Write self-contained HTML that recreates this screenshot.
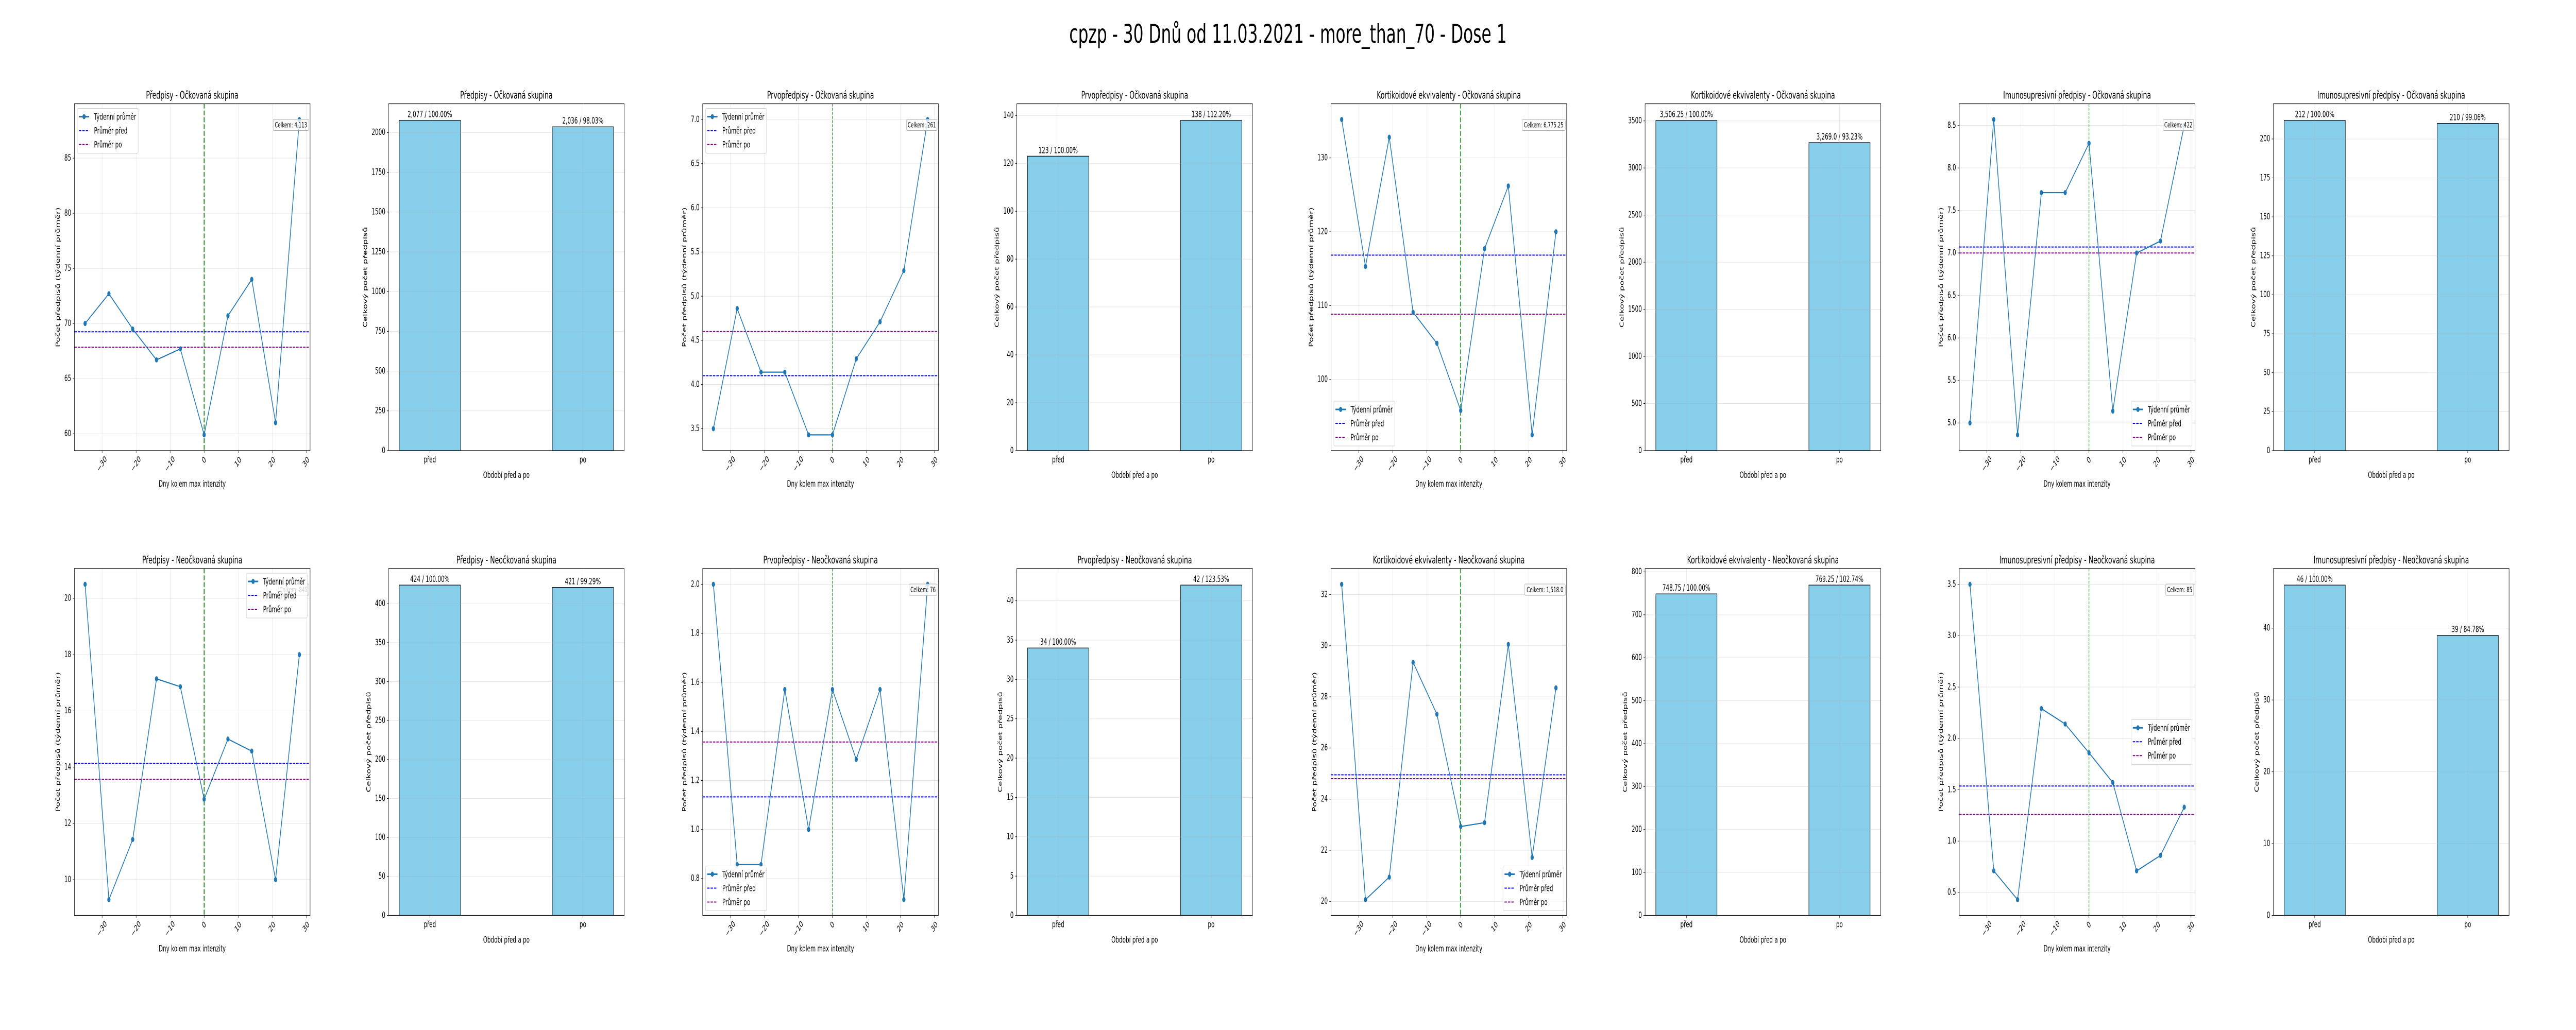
<!DOCTYPE html>
<html><head><meta charset="utf-8">
<style>
html,body{margin:0;padding:0;background:#fff;width:100%;height:100%;overflow:hidden;}
svg{display:block;width:100vw;height:100vh;font-family:"DejaVu Sans","Liberation Sans",sans-serif;}
</style></head>
<body>
<svg id="chart" xmlns="http://www.w3.org/2000/svg" viewBox="0 0 8000 2000" preserveAspectRatio="none">
<rect x="0" y="0" width="8000" height="2000" fill="#ffffff"/>
<text x="4000" y="83" text-anchor="middle" font-size="50" fill="#000">cpzp - 30 Dnů od 11.03.2021 - more_than_70 - Dose 1</text>
</svg>
<script>
// ---- shared data ----
const days = [-35, -28, -21, -14, -7, 0, 7, 14, 21, 28];
const dayTicks = [-30, -20, -10, 0, 10, 20, 30];
const barCategories = ['před', 'po'];

// Předpisy - Očkovaná
const vacRxWeekly = [70.0, 72.7, 69.5, 66.7, 67.7, 59.9, 70.7, 74.0, 61.0, 88.5];
const vacRxMeans = [69.25, 67.85];
const vacRxTicks = [60, 65, 70, 75, 80, 85];
const vacRxTotals = [2077, 2036];
const vacRxTotalLabels = ['2,077 / 100.00%', '2,036 / 98.03%'];
const vacRxBarTicks = [0, 250, 500, 750, 1000, 1250, 1500, 1750, 2000];
const vacRxCelkem = 'Celkem: 4,113';

// Prvopředpisy - Očkovaná
const vacFirstWeekly = [3.5, 4.86, 4.14, 4.14, 3.43, 3.43, 4.29, 4.71, 5.29, 7.0];
const vacFirstMeans = [4.1, 4.6];
const vacFirstTicks = [3.5, 4.0, 4.5, 5.0, 5.5, 6.0, 6.5, 7.0];
const vacFirstTotals = [123, 138];
const vacFirstTotalLabels = ['123 / 100.00%', '138 / 112.20%'];
const vacFirstBarTicks = [0, 20, 40, 60, 80, 100, 120, 140];
const vacFirstCelkem = 'Celkem: 261';

// Kortikoidové ekvivalenty - Očkovaná
const vacCortWeekly = [135.2, 115.3, 132.8, 109.1, 104.9, 95.8, 117.7, 126.2, 92.5, 120.0];
const vacCortMeans = [116.84, 108.84];
const vacCortTicks = [100, 110, 120, 130];
const vacCortTotals = [3506.25, 3269.0];
const vacCortTotalLabels = ['3,506.25 / 100.00%', '3,269.0 / 93.23%'];
const vacCortBarTicks = [0, 500, 1000, 1500, 2000, 2500, 3000, 3500];
const vacCortCelkem = 'Celkem: 6,775.25';

// Imunosupresivní - Očkovaná
const vacImmWeekly = [5.0, 8.57, 4.86, 7.71, 7.71, 8.29, 5.14, 7.0, 7.14, 8.5];
const vacImmMeans = [7.07, 7.0];
const vacImmTicks = [5.0, 5.5, 6.0, 6.5, 7.0, 7.5, 8.0, 8.5];
const vacImmTotals = [212, 210];
const vacImmTotalLabels = ['212 / 100.00%', '210 / 99.06%'];
const vacImmBarTicks = [0, 25, 50, 75, 100, 125, 150, 175, 200];
const vacImmCelkem = 'Celkem: 422';

// Předpisy - Neočkovaná
const unvRxWeekly = [20.5, 9.29, 11.43, 17.14, 16.86, 12.86, 15.0, 14.57, 10.0, 18.0];
const unvRxMeans = [14.14, 13.57];
const unvRxTicks = [10, 12, 14, 16, 18, 20];
const unvRxTotals = [424, 421];
const unvRxTotalLabels = ['424 / 100.00%', '421 / 99.29%'];
const unvRxBarTicks = [0, 50, 100, 150, 200, 250, 300, 350, 400];
const unvRxCelkem = 'Celkem: 845';

// Prvopředpisy - Neočkovaná
const unvFirstWeekly = [2.0, 0.857, 0.857, 1.571, 1.0, 1.571, 1.286, 1.571, 0.714, 2.0];
const unvFirstMeans = [1.133, 1.357];
const unvFirstTicks = [0.8, 1.0, 1.2, 1.4, 1.6, 1.8, 2.0];
const unvFirstTotals = [34, 42];
const unvFirstTotalLabels = ['34 / 100.00%', '42 / 123.53%'];
const unvFirstBarTicks = [0, 5, 10, 15, 20, 25, 30, 35, 40];
const unvFirstCelkem = 'Celkem: 76';

// Kortikoidové ekvivalenty - Neočkovaná
const unvCortWeekly = [32.4, 20.07, 20.95, 29.35, 27.32, 22.93, 23.08, 30.05, 21.72, 28.35];
const unvCortMeans = [24.95, 24.8];
const unvCortTicks = [20, 22, 24, 26, 28, 30, 32];
const unvCortTotals = [748.75, 769.25];
const unvCortTotalLabels = ['748.75 / 100.00%', '769.25 / 102.74%'];
const unvCortBarTicks = [0, 100, 200, 300, 400, 500, 600, 700, 800];
const unvCortCelkem = 'Celkem: 1,518.0';

// Imunosupresivní - Neočkovaná
const unvImmWeekly = [3.5, 0.71, 0.43, 2.29, 2.14, 1.86, 1.57, 0.71, 0.86, 1.33];
const unvImmMeans = [1.536, 1.26];
const unvImmTicks = [0.5, 1.0, 1.5, 2.0, 2.5, 3.0, 3.5];
const unvImmTotals = [46, 39];
const unvImmTotalLabels = ['46 / 100.00%', '39 / 84.78%'];
const unvImmBarTicks = [0, 10, 20, 30, 40];
const unvImmCelkem = 'Celkem: 85';

const NS = 'http://www.w3.org/2000/svg';
const svg = document.getElementById('chart');
function mk(tag, attrs, parent) {
  const e = document.createElementNS(NS, tag);
  for (const k in attrs) e.setAttribute(k, attrs[k]);
  (parent || svg).appendChild(e);
  return e;
}
function fmt(v, dec) { const s = v.toFixed(dec); return s.replace('-', '\u2212'); }

const COL0 = 231, COLSTEP = 975.6, AXW = 732, AXH = 673.5;
const ROWTOP = [201.5, 1104];
const TICKFS = 16.7, LABFS = 16.7, TITLEFS = 20;
const GRID = '#b0b0b0';

const panels = [
  {row:0, col:0, cat:'Předpisy', grp:'Očkovaná', w:vacRxWeekly, m:vacRxMeans, t:vacRxTicks, dec:0, tot:vacRxTotals, tl:vacRxTotalLabels, bt:vacRxBarTicks, cel:vacRxCelkem, leg:'ul', gw:2.5},
  {row:0, col:1, cat:'Prvopředpisy', grp:'Očkovaná', w:vacFirstWeekly, m:vacFirstMeans, t:vacFirstTicks, dec:1, tot:vacFirstTotals, tl:vacFirstTotalLabels, bt:vacFirstBarTicks, cel:vacFirstCelkem, leg:'ul', gw:1.5},
  {row:0, col:2, cat:'Kortikoidové ekvivalenty', grp:'Očkovaná', w:vacCortWeekly, m:vacCortMeans, t:vacCortTicks, dec:0, tot:vacCortTotals, tl:vacCortTotalLabels, bt:vacCortBarTicks, cel:vacCortCelkem, leg:'ll', gw:2.5},
  {row:0, col:3, cat:'Imunosupresivní předpisy', grp:'Očkovaná', w:vacImmWeekly, m:vacImmMeans, t:vacImmTicks, dec:1, tot:vacImmTotals, tl:vacImmTotalLabels, bt:vacImmBarTicks, cel:vacImmCelkem, leg:'lr', gw:1.5},
  {row:1, col:0, cat:'Předpisy', grp:'Neočkovaná', w:unvRxWeekly, m:unvRxMeans, t:unvRxTicks, dec:0, tot:unvRxTotals, tl:unvRxTotalLabels, bt:unvRxBarTicks, cel:unvRxCelkem, leg:'ur', gw:2.5},
  {row:1, col:1, cat:'Prvopředpisy', grp:'Neočkovaná', w:unvFirstWeekly, m:unvFirstMeans, t:unvFirstTicks, dec:1, tot:unvFirstTotals, tl:unvFirstTotalLabels, bt:unvFirstBarTicks, cel:unvFirstCelkem, leg:'ll', gw:1.5},
  {row:1, col:2, cat:'Kortikoidové ekvivalenty', grp:'Neočkovaná', w:unvCortWeekly, m:unvCortMeans, t:unvCortTicks, dec:0, tot:unvCortTotals, tl:unvCortTotalLabels, bt:unvCortBarTicks, cel:unvCortCelkem, leg:'lr', gw:2.5},
  {row:1, col:3, cat:'Imunosupresivní předpisy', grp:'Neočkovaná', w:unvImmWeekly, m:unvImmMeans, t:unvImmTicks, dec:1, tot:unvImmTotals, tl:unvImmTotalLabels, bt:unvImmBarTicks, cel:unvImmCelkem, leg:'cr', gw:1.5}
];

function yLabelWidth(labels) {
  let mx = 0;
  labels.forEach(s => { let w = 0; for (const ch of s) w += (ch === '.' ? 5.3 : 10.6); mx = Math.max(mx, w); });
  return mx;
}

function drawLinePanel(p) {
  const x0 = COL0 + (p.col * 2) * COLSTEP, y0 = ROWTOP[p.row];
  const g = mk('g', {});
  
  
  const dmin = Math.min(...days), dmax = Math.max(...days), dr = dmax - dmin;
  const xlo = dmin - 0.05 * dr, xhi = dmax + 0.05 * dr;
  const vmin = Math.min(...p.w), vmax = Math.max(...p.w), vr = vmax - vmin;
  const ylo = vmin - 0.05 * vr, yhi = vmax + 0.05 * vr;
  const sx = v => x0 + (v - xlo) / (xhi - xlo) * AXW;
  const sy = v => y0 + AXH - (v - ylo) / (yhi - ylo) * AXH;
  const bottom = y0 + AXH;

  dayTicks.forEach(d => {
    const l = mk('line', {x1:sx(d), x2:sx(d), y1:y0, y2:bottom, stroke:GRID, 'stroke-opacity':0.35, 'stroke-width':1}, g);
    
    
  });
  p.t.forEach(v => {
    const l = mk('line', {x1:x0, x2:x0 + AXW, y1:sy(v), y2:sy(v), stroke:GRID, 'stroke-opacity':0.35, 'stroke-width':1}, g);
    
    
  });

  const before = mk('line', {x1:x0, x2:x0 + AXW, y1:sy(p.m[0]), y2:sy(p.m[0]), stroke:'#0000ff', 'stroke-width':2, 'stroke-dasharray':'7.4 3.2'}, g);
  
  
  const after = mk('line', {x1:x0, x2:x0 + AXW, y1:sy(p.m[1]), y2:sy(p.m[1]), stroke:'#800080', 'stroke-width':2, 'stroke-dasharray':'7.4 3.2'}, g);
  
  

  const vz = mk('line', {x1:sx(0), x2:sx(0), y1:y0, y2:bottom, stroke:'#008000', 'stroke-width':p.gw, 'stroke-dasharray':(3.7 * p.gw) + ' ' + (1.6 * p.gw)}, g);
  
  

  const pts = days.map((d, i) => sx(d) + ',' + sy(p.w[i])).join(' ');
  const pl = mk('polyline', {points:pts, fill:'none', stroke:'#1f77b4', 'stroke-width':2.2, 'stroke-linejoin':'round'}, g);
  
  
  days.forEach((d, i) => {
    const c = mk('circle', {cx:sx(d), cy:sy(p.w[i]), r:5, fill:'#1f77b4'}, g);
    
    
  });

  const celW = p.cel.length * 7.9 + 8;
  const cb = mk('rect', {x:x0 + AXW - 4 - celW, y:y0 + 30, width:celW, height:22, rx:3, fill:'#ffffff', 'fill-opacity':0.8, stroke:'#aaaaaa', 'stroke-width':1}, g);
  
  
  const ct = mk('text', {x:x0 + AXW - 4 - celW / 2, y:y0 + 46, 'text-anchor':'middle', 'font-size':13.9}, g);
  ct.textContent = p.cel;
  
  

  const lw = 189, lh = 87;
  let lx, ly;
  if (p.leg[1] === 'l') lx = x0 + 9; else lx = x0 + AXW - 9 - lw;
  if (p.leg[0] === 'u') ly = y0 + 9; else if (p.leg[0] === 'l') ly = bottom - 9 - lh; else ly = y0 + AXH / 2 - lh / 2;
  const lg = mk('g', {}, g);
  
  
  const lbox = mk('rect', {x:lx, y:ly, width:lw, height:lh, rx:3, fill:'#ffffff', 'fill-opacity':0.8, stroke:'#cccccc', 'stroke-width':1}, lg);
  
  
  const entries = [['Týdenní průměr', '#1f77b4', null], ['Průměr před', '#0000ff', '7.4 3.2'], ['Průměr po', '#800080', '7.4 3.2']];
  entries.forEach((e, i) => {
    const yy = ly + 16 + i * 27;
    const hl = mk('line', {x1:lx + 5, x2:lx + 37, y1:yy, y2:yy, stroke:e[1], 'stroke-width':i === 0 ? 3 : 2}, lg);
    if (e[2]) hl.setAttribute('stroke-dasharray', e[2]);
    
    
    if (i === 0) {
      const hc = mk('circle', {cx:lx + 21, cy:yy, r:5, fill:'#1f77b4'}, lg);
      
      
    }
    const tx = mk('text', {x:lx + 52, y:yy + 6, 'font-size':16.7}, lg);
    tx.textContent = e[0];
    
    
  });

  const fr = mk('rect', {x:x0, y:y0, width:AXW, height:AXH, fill:'none', stroke:'#000', 'stroke-width':1.25}, g);
  
  

  dayTicks.forEach(d => {
    const tk = mk('line', {x1:sx(d), x2:sx(d), y1:bottom, y2:bottom + 5, stroke:'#000'}, g);
    
    
    const s = fmt(d, 0);
    const tw = s.length * 10.6;
    const bb = (tw + 17) * 0.7071;
    const cy = bottom + 9 + bb / 2;
    const tl = mk('text', {x:sx(d), y:cy, 'text-anchor':'middle', 'dominant-baseline':'central', 'font-size':TICKFS, transform:'rotate(-45 ' + sx(d) + ' ' + cy + ')'}, g);
    tl.textContent = s;
    
    
  });
  const ylabs = p.t.map(v => fmt(v, p.dec));
  p.t.forEach((v, i) => {
    const tk = mk('line', {x1:x0 - 5, x2:x0, y1:sy(v), y2:sy(v), stroke:'#000'}, g);
    
    
    const tl = mk('text', {x:x0 - 10, y:sy(v), 'text-anchor':'end', 'dominant-baseline':'central', 'font-size':TICKFS}, g);
    tl.textContent = ylabs[i];
    
    
  });
  const ylx = x0 - 12 - yLabelWidth(ylabs) - 17;
  const yl = mk('text', {x:ylx, y:y0 + AXH / 2, 'text-anchor':'middle', 'dominant-baseline':'central', 'font-size':LABFS, transform:'rotate(-90 ' + ylx + ' ' + (y0 + AXH / 2) + ')'}, g);
  yl.textContent = 'Počet předpisů (týdenní průměr)';
  
  
  const xl = mk('text', {x:x0 + AXW / 2, y:bottom + 70, 'text-anchor':'middle', 'font-size':LABFS}, g);
  xl.textContent = 'Dny kolem max intenzity';
  
  
  const tt = mk('text', {x:x0 + AXW / 2, y:y0 - 10, 'text-anchor':'middle', 'font-size':TITLEFS}, g);
  tt.textContent = p.cat + ' - ' + p.grp + ' skupina';
  
  
}

function drawBarPanel(p) {
  const x0 = COL0 + (p.col * 2 + 1) * COLSTEP, y0 = ROWTOP[p.row];
  const g = mk('g', {});
  
  
  const bw = 0.4;
  const xlo = -bw / 2 - 0.05 * (1 + bw), xhi = 1 + bw / 2 + 0.05 * (1 + bw);
  const ymax = Math.max(...p.tot) * 1.05;
  const sx = v => x0 + (v - xlo) / (xhi - xlo) * AXW;
  const sy = v => y0 + AXH - v / ymax * AXH;
  const bottom = y0 + AXH;

  p.tot.forEach((v, i) => {
    const r = mk('rect', {x:sx(i - bw / 2), y:sy(v), width:sx(i + bw / 2) - sx(i - bw / 2), height:bottom - sy(v), fill:'#87ceeb', stroke:'#000', 'stroke-width':1.2}, g);
    
    
    const t = mk('text', {x:sx(i), y:sy(v) - 6, 'text-anchor':'middle', 'font-size':16.7}, g);
    t.textContent = p.tl[i];
    
    
  });
  [0, 1].forEach(i => {
    const l = mk('line', {x1:sx(i), x2:sx(i), y1:y0, y2:bottom, stroke:GRID, 'stroke-opacity':0.35, 'stroke-width':1}, g);
    
    
  });
  p.bt.forEach(v => {
    const l = mk('line', {x1:x0, x2:x0 + AXW, y1:sy(v), y2:sy(v), stroke:GRID, 'stroke-opacity':0.35, 'stroke-width':1}, g);
    
    
  });
  const fr = mk('rect', {x:x0, y:y0, width:AXW, height:AXH, fill:'none', stroke:'#000', 'stroke-width':1.25}, g);
  
  
  barCategories.forEach((c, i) => {
    const tk = mk('line', {x1:sx(i), x2:sx(i), y1:bottom, y2:bottom + 5, stroke:'#000'}, g);
    
    
    const tl = mk('text', {x:sx(i), y:bottom + 23, 'text-anchor':'middle', 'font-size':TICKFS}, g);
    tl.textContent = c;
    
    
  });
  const ylabs = p.bt.map(v => fmt(v, 0));
  p.bt.forEach((v, i) => {
    const tk = mk('line', {x1:x0 - 5, x2:x0, y1:sy(v), y2:sy(v), stroke:'#000'}, g);
    
    
    const tl = mk('text', {x:x0 - 10, y:sy(v), 'text-anchor':'end', 'dominant-baseline':'central', 'font-size':TICKFS}, g);
    tl.textContent = ylabs[i];
    
    
  });
  const ylx = x0 - 12 - yLabelWidth(ylabs) - 17;
  const yl = mk('text', {x:ylx, y:y0 + AXH / 2, 'text-anchor':'middle', 'dominant-baseline':'central', 'font-size':LABFS, transform:'rotate(-90 ' + ylx + ' ' + (y0 + AXH / 2) + ')'}, g);
  yl.textContent = 'Celkový počet předpisů';
  
  
  const xl = mk('text', {x:x0 + AXW / 2, y:bottom + 53, 'text-anchor':'middle', 'font-size':LABFS}, g);
  xl.textContent = 'Období před a po';
  
  
  const tt = mk('text', {x:x0 + AXW / 2, y:y0 - 10, 'text-anchor':'middle', 'font-size':TITLEFS}, g);
  tt.textContent = p.cat + ' - ' + p.grp + ' skupina';
  
  
}

panels.forEach(p => { drawLinePanel(p); drawBarPanel(p); });
</script>
</body></html>
